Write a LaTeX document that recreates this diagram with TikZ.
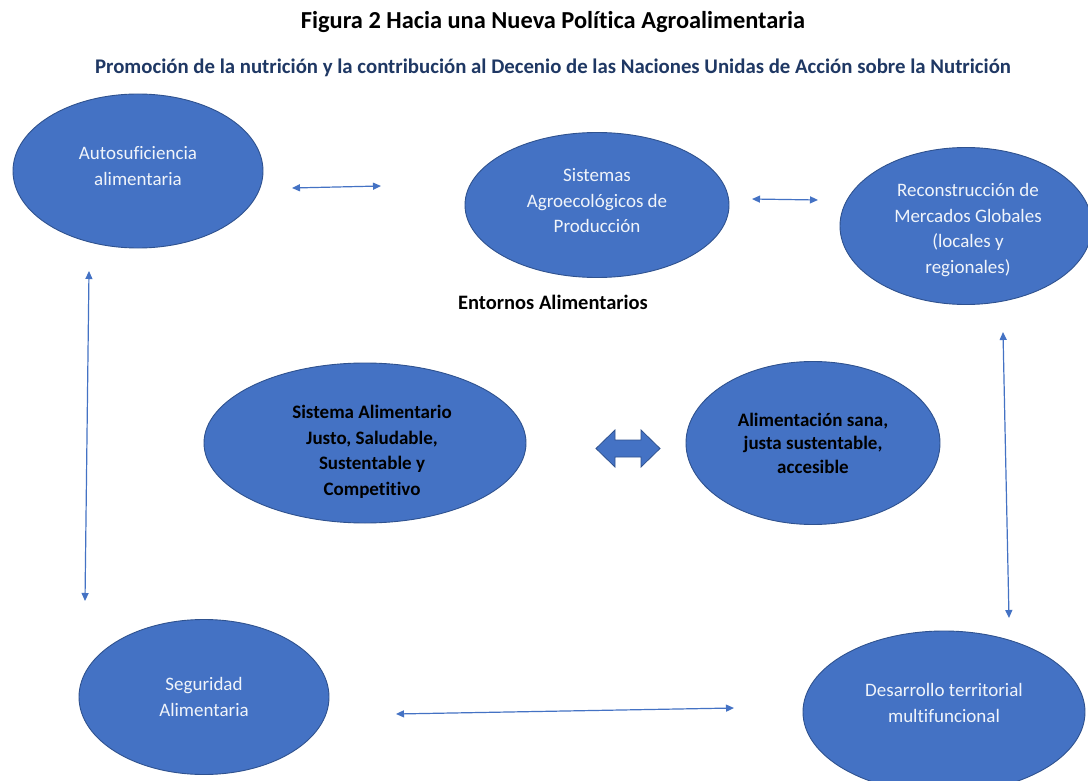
\documentclass[tikz,border=0pt]{standalone}
\usepackage{fontspec}
\setmainfont{Carlito}[Ligatures={NoCommon}]
\usetikzlibrary{shapes.geometric,arrows.meta}
\definecolor{ellfill}{HTML}{4472C4}
\definecolor{elldraw}{HTML}{2F528F}
\definecolor{subblue}{HTML}{1F3864}
\tikzset{
  ell/.style={ellipse, fill=ellfill, draw=elldraw, line width=0.9pt, inner sep=0pt},
  wtxt/.style={text=white!92!ellfill, align=center, font=\fontsize{19}{25.5}\selectfont},
  btxt/.style={text=black, align=center, font=\bfseries\fontsize{19}{25.5}\selectfont},
  conn/.style={draw=ellfill, line width=1.2pt, {Triangle[length=8pt,width=7pt]}-{Triangle[length=8pt,width=7pt]}},
}
\begin{document}
\begin{tikzpicture}[x=1pt,y=-1pt]
\useasboundingbox (0,0) rectangle (1088,781);
\fill[white] (0,0) rectangle (1088,781);

\node[font=\bfseries\fontsize{24.4}{28}\selectfont] (title) at (553,22) {Figura 2 Hacia una Nueva Política Agroalimentaria};
\node[font=\bfseries\fontsize{20.8}{24}\selectfont, text=subblue] (sub) at (553,68) {Promoción de la nutrición y la contribución al Decenio de las Naciones Unidas de Acción sobre la Nutrición};
\node[font=\bfseries\fontsize{20.5}{24}\selectfont] (entornos) at (553,302) {Entornos Alimentarios};

% ellipses
\node[ell, minimum width=250pt, minimum height=154pt] (auto) at (138,171) {};
\node[wtxt] (autot) at (138,166) {Autosuficiencia\\alimentaria};

\node[ell, minimum width=264pt, minimum height=145pt] (sist) at (597,205) {};
\node[wtxt] (sistt) at (597,201) {Sistemas\\Agroecológicos de\\Producción};

\node[ell, minimum width=252pt, minimum height=157pt] (recon) at (966,226) {};
\node[wtxt] (recont) at (968,230) {Reconstrucción de\\Mercados Globales\\(locales y\\regionales)};

\node[ell, minimum width=322pt, minimum height=160pt] (salim) at (365,443) {};
\node[btxt] (salimt) at (372,452) {Sistema Alimentario\\Justo, Saludable,\\Sustentable y\\Competitivo};

\node[ell, minimum width=254pt, minimum height=163pt] (asana) at (813,443) {};
\node[btxt, font=\bfseries\fontsize{19}{23.5}\selectfont] (asanat) at (813,443) {Alimentación sana,\\justa sustentable,\\accesible};

\node[ell, minimum width=250pt, minimum height=155pt] (segur) at (204,697) {};
\node[wtxt] (segurt) at (204,697) {Seguridad\\Alimentaria};

\node[ell, minimum width=282pt, minimum height=162pt] (desa) at (944,712) {};
\node[wtxt] (desat) at (944,703) {Desarrollo territorial\\multifuncional};

% connector end points
\coordinate (a1) at (292,188);
\coordinate (a2) at (381,186);
\coordinate (b1) at (752,199);
\coordinate (b2) at (818,200);
\coordinate (c1) at (89,271);
\coordinate (c2) at (85,601);
\coordinate (d1) at (1003,332);
\coordinate (d2) at (1009,618);
\coordinate (e1) at (396,714);
\coordinate (e2) at (734,708);

\draw[conn] (a1) -- (a2);
\draw[conn] (b1) -- (b2);
\draw[conn] (c1) -- (c2);
\draw[conn] (d1) -- (d2);
\draw[conn] (e1) -- (e2);

% big double arrow
\filldraw[fill=ellfill, draw=elldraw, line width=0.8pt]
  (596,448.5) -- (615,430) -- (615,440) -- (641,440) -- (641,430) -- (660,448.5)
  -- (641,467) -- (641,457) -- (615,457) -- (615,467) -- cycle;
\end{tikzpicture}
\end{document}
